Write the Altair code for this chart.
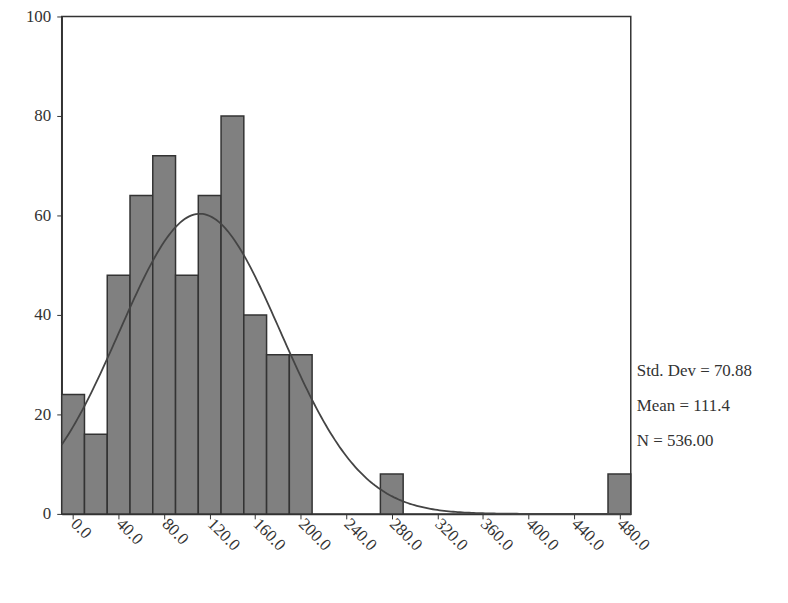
import altair as alt
import pandas as pd
import numpy as np

# histogram bins (centres) and counts
bin_centres = [0, 20, 40, 60, 80, 100, 120, 140, 160, 180, 200, 280, 480]
counts = [24, 16, 48, 64, 72, 48, 64, 80, 40, 32, 32, 8, 8]
bin_width = 20

# summary statistics shown in the chart
std_dev = 70.88
mean = 111.4
n_total = 536

bars = pd.DataFrame({"x0": [c - bin_width / 2 for c in bin_centres],
                     "x1": [c + bin_width / 2 for c in bin_centres],
                     "count": counts})

# fitted normal curve from the stats
xs = np.arange(-10, 491, 2.0)
ys = n_total * bin_width / (std_dev * np.sqrt(2 * np.pi)) * np.exp(-0.5 * ((xs - mean) / std_dev) ** 2)
curve = pd.DataFrame({"x": xs, "y": ys})

font = "Liberation Serif"
xscale = alt.Scale(domain=[-10, 490], nice=False, zero=False)
yscale = alt.Scale(domain=[0, 100], nice=False)

hist = alt.Chart(bars).mark_rect(color="#808080", stroke="#333333", strokeWidth=1.5).encode(
    x=alt.X("x0:Q", scale=xscale, title=None,
            axis=alt.Axis(values=list(range(0, 481, 40)), format=".1f", labelAngle=45,
                          labelAlign="left", labelBaseline="middle", labelFont=font,
                          labelFontSize=17, labelColor="#333", grid=False,
                          domainColor="#333", tickColor="#333", labelPadding=2)),
    x2="x1:Q",
    y=alt.Y("count:Q", scale=yscale, title=None,
            axis=alt.Axis(values=list(range(0, 101, 20)), labelFont=font, labelFontSize=17,
                          labelColor="#333", grid=False, domainColor="#333", tickColor="#333",
                          labelPadding=6)),
)

line = alt.Chart(curve).mark_line(color="#444444", strokeWidth=1.8).encode(
    x=alt.X("x:Q", scale=xscale), y=alt.Y("y:Q", scale=yscale))

labels = pd.DataFrame({"t": [f"Std. Dev = {std_dev:.2f}", f"Mean = {mean:.1f}", f"N = {n_total:.2f}"],
                       "py": [356, 392, 427]})
text = alt.Chart(labels).mark_text(align="left", font=font, fontSize=17, color="#333").encode(
    x=alt.value(578), y=alt.Y("py:Q", scale=None), text="t:N")

chart = alt.layer(hist, line, text).properties(
    width=572, height=500, autosize="none",
    padding={"left": 54, "top": 7, "right": 150, "bottom": 80}
).configure_view(stroke="#333", strokeWidth=1.5).configure_axis(domainWidth=1.5)

chart.save("out.html", embed_options={"renderer": "svg", "actions": False})
